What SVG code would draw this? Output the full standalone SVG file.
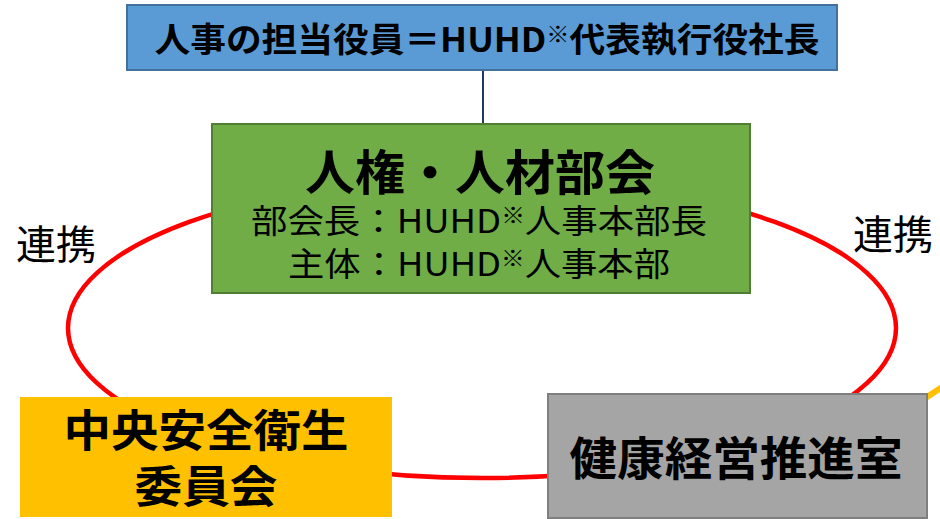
<svg xmlns="http://www.w3.org/2000/svg" width="940" height="519" viewBox="0 0 940 519">
<style>
text{font-family:"Noto Sans CJK JP","Noto Sans",sans-serif;fill:#000;text-anchor:middle}
.b{font-weight:bold}
.note{font-size:0.65em}
</style>
<rect width="940" height="519" fill="#fff"/>
<g id="connectors">
<ellipse cx="482" cy="328" rx="414" ry="150" fill="none" stroke="#FF0000" stroke-width="4.5"/>
<line x1="483" y1="70" x2="483" y2="125" stroke="#1F3864" stroke-width="2"/>
<line x1="918" y1="403" x2="942" y2="387" stroke="#FFC000" stroke-width="6"/>
</g>
<g id="top">
<rect x="127" y="5" width="710" height="65" fill="#5B9BD5" stroke="#41719C" stroke-width="2"/>
<text x="487" y="52" class="b" font-size="34" textLength="665" lengthAdjust="spacingAndGlyphs">人事の担当役員＝HUHD<tspan class="note" dy="-10">※</tspan><tspan dy="10">代表執行役社長</tspan></text>
</g>
<g id="bukai">
<rect x="212" y="124" width="538" height="169" fill="#70AD47" stroke="#507E32" stroke-width="2"/>
<text x="480" y="190" class="b" font-size="48" textLength="350" lengthAdjust="spacingAndGlyphs">人権・人材部会</text>
<text x="479" y="233" font-size="33" textLength="456" lengthAdjust="spacingAndGlyphs">部会長：HUHD<tspan class="note" dy="-10">※</tspan><tspan dy="10">人事本部長</tspan></text>
<text x="479" y="276" font-size="33" textLength="382" lengthAdjust="spacingAndGlyphs">主体：HUHD<tspan class="note" dy="-10">※</tspan><tspan dy="10">人事本部</tspan></text>
</g>
<g id="anzen">
<rect x="20" y="397" width="372" height="120" fill="#FFC000"/>
<text x="206" y="447" class="b" font-size="44" textLength="285" lengthAdjust="spacingAndGlyphs">中央安全衛生</text>
<text x="206" y="503" class="b" font-size="44" textLength="143" lengthAdjust="spacingAndGlyphs">委員会</text>
</g>
<g id="kenko">
<rect x="548" y="394" width="379" height="124" fill="#A5A5A5" stroke="#7F7F7F" stroke-width="2"/>
<text x="736" y="475" class="b" font-size="46" textLength="333" lengthAdjust="spacingAndGlyphs">健康経営推進室</text>
</g>
<g id="labels">
<text x="56" y="259" font-size="40">連携</text>
<text x="893" y="249" font-size="40">連携</text>
</g>
</svg>
